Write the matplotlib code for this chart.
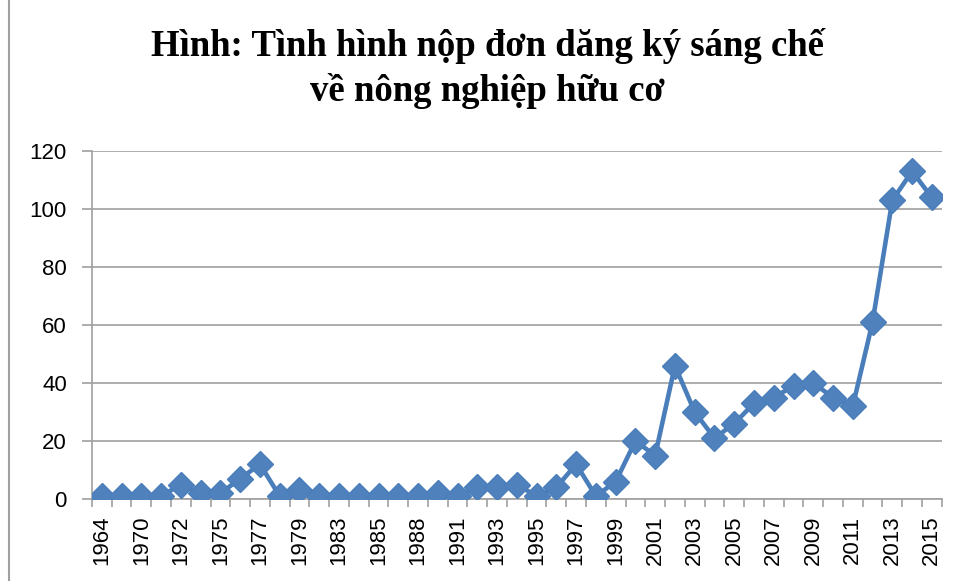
import numpy as np
from matplotlib import pyplot as plt
from matplotlib.lines import Line2D

# Năm (chỉ nhãn chẵn hiển thị trên trục)
years = ["1964", "1968", "1970", "1971", "1972", "1974", "1975", "1976",
         "1977", "1978", "1979", "1981", "1983", "1984", "1985", "1987",
         "1988", "1990", "1991", "1992", "1993", "1994", "1995", "1996",
         "1997", "1998", "1999", "2000", "2001", "2002", "2003", "2004",
         "2005", "2006", "2007", "2008", "2009", "2010", "2011", "2012",
         "2013", "2014", "2015"]
counts = [1, 1, 1, 1, 5, 2, 2, 7, 12, 1, 3, 1, 1, 1, 1, 1,
          1, 2, 1, 4, 4, 5, 1, 4, 12, 1, 6, 20, 15, 46, 30, 21,
          26, 33, 35, 39, 40, 35, 32, 61, 103, 113, 104]

title_1 = "Hình: Tình hình nộp đơn dăng ký sáng chế"
title_2 = "về nông nghiệp hữu cơ"


def main():
    x = np.arange(len(years))

    fig = plt.figure(figsize=(9.58, 5.81), dpi=100)
    ax = fig.add_axes([0.096, 0.1411, 0.887, 0.5990])

    ax.plot(x, counts, color="#4A7EBB", linewidth=3.3, marker="D",
            markersize=13, markerfacecolor="#4F81BD",
            markeredgecolor="#4A7EBB", zorder=3)

    ax.set_xlim(-0.5, len(years) - 0.5)
    ax.set_ylim(0, 120)
    ax.set_yticks(np.arange(0, 121, 20))
    ax.grid(axis="y", color="#A0A0A0", linewidth=1.2)
    ax.set_axisbelow(True)

    # nhãn ở giữa mỗi hạng mục, vạch chia ở ranh giới
    ax.set_xticks(x[::2])
    ax.set_xticklabels(years[::2], rotation=90, fontsize=16,
                       family="Liberation Sans")
    ax.set_xticks(np.arange(-0.5, len(years), 1), minor=True)
    ax.tick_params(axis="x", which="major", length=0, pad=12)
    ax.tick_params(axis="x", which="minor", length=6, color="#A0A0A0",
                   width=1.2)
    ax.tick_params(axis="y", length=7, color="#A0A0A0", width=1.2, pad=11,
                   labelsize=16)
    for lab in ax.get_yticklabels():
        lab.set_family("Liberation Sans")

    for s in ["top", "right"]:
        ax.spines[s].set_visible(False)
    for s in ["left", "bottom"]:
        ax.spines[s].set_color("#A0A0A0")
        ax.spines[s].set_linewidth(1.2)

    fig.text(0.509, 1 - 56 / 581, title_1, ha="center", va="baseline",
             fontsize=26.5, fontweight="bold", family="Liberation Serif")
    fig.text(0.509, 1 - 101 / 581, title_2, ha="center", va="baseline",
             fontsize=26.5, fontweight="bold", family="Liberation Serif")

    # viền trái của khung biểu đồ
    fig.add_artist(Line2D([8.5 / 958, 8.5 / 958], [0, 1], color="#A0A0A0",
                          linewidth=1.5, transform=fig.transFigure))

    fig.savefig("out.png", dpi=100)


if __name__ == "__main__":
    main()
